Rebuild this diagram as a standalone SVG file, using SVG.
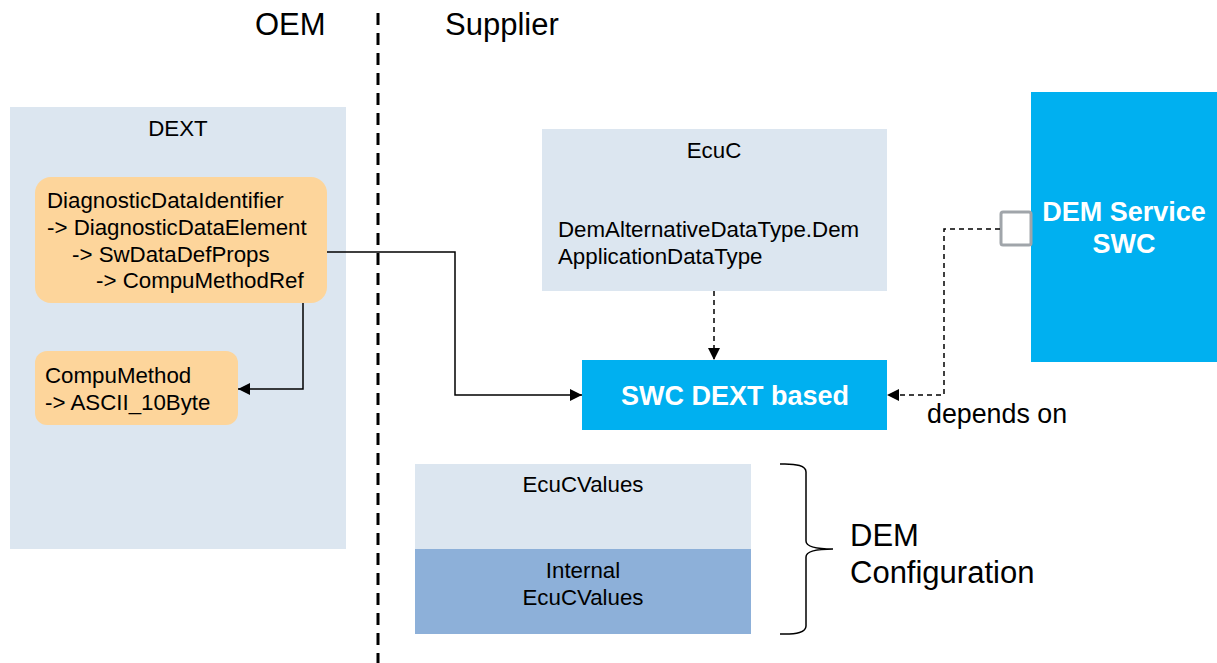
<svg xmlns="http://www.w3.org/2000/svg" width="1217" height="663" viewBox="0 0 1217 663">
<defs>
<style>
text{font-family:"Liberation Sans",Arial,sans-serif;fill:#000}
.s{font-size:22.3px}
.b{font-size:31px}
.w{fill:#fff;font-weight:bold;font-size:27px}
.light{fill:#dce6f0}
.or{fill:#fdd59b}
.line{fill:none;stroke:#000;stroke-width:1.5}
.dash{fill:none;stroke:#000;stroke-width:1.5;stroke-dasharray:5 4}
</style>
<marker id="ah" viewBox="0 0 10 10" refX="10" refY="5" markerWidth="12" markerHeight="12" markerUnits="userSpaceOnUse" orient="auto">
<path d="M0,0 L10,5 L0,10 z" fill="#000"/>
</marker>
</defs>
<rect width="1217" height="663" fill="#fff"/>
<g id="partition">
<text class="b" x="255" y="35">OEM</text>
<text class="b" x="445" y="35">Supplier</text>
<line x1="378" y1="13" x2="378" y2="663" stroke="#000" stroke-width="3" stroke-dasharray="12 8"/>
</g>
<g id="dext">
<rect class="light" x="10" y="107" width="336" height="442"/>
<text class="s" x="178" y="136" text-anchor="middle">DEXT</text>
</g>
<g id="ddi">
<rect class="or" x="35" y="177" width="292" height="126" rx="16"/>
<text class="s" x="47" y="208">DiagnosticDataIdentifier</text>
<text class="s" x="47" y="235">-&gt; DiagnosticDataElement</text>
<text class="s" x="72" y="262">-&gt; SwDataDefProps</text>
<text class="s" x="96" y="288">-&gt; CompuMethodRef</text>
</g>
<g id="compu">
<rect class="or" x="35" y="351" width="203" height="74" rx="12"/>
<text class="s" x="45" y="383">CompuMethod</text>
<text class="s" x="45" y="410">-&gt; ASCII_10Byte</text>
</g>
<g id="ecuc">
<rect class="light" x="542" y="129" width="345" height="162"/>
<text class="s" x="714" y="158" text-anchor="middle">EcuC</text>
<text class="s" x="558" y="237">DemAlternativeDataType.Dem</text>
<text class="s" x="558" y="264">ApplicationDataType</text>
</g>
<g id="swcdext">
<rect x="582" y="360" width="305" height="70" fill="#00b0f0"/>
<text class="w" x="735" y="405" text-anchor="middle">SWC DEXT based</text>
</g>
<g id="demswc">
<rect x="1031" y="92" width="186" height="270" fill="#00b0f0"/>
<text class="w" x="1124" y="221" text-anchor="middle">DEM Service</text>
<text class="w" x="1124" y="253" text-anchor="middle">SWC</text>
<rect x="1001" y="212" width="30" height="33" rx="2" fill="#fff" stroke="#a0a5aa" stroke-width="3"/>
</g>
<g id="ecucvalues">
<rect class="light" x="415" y="464" width="336" height="85"/>
<text class="s" x="583" y="492" text-anchor="middle">EcuCValues</text>
</g>
<g id="internal">
<rect x="415" y="549" width="336" height="85" fill="#8db0d9"/>
<text class="s" x="583" y="578" text-anchor="middle">Internal</text>
<text class="s" x="583" y="605" text-anchor="middle">EcuCValues</text>
</g>
<g id="demconfig">
<path class="line" d="M780,464 Q806,463 806,472 L806,541 Q806,549 833,549 Q806,549 806,557 L806,626 Q806,635 780,634"/>
<text class="b" x="850" y="546">DEM</text>
<text class="b" x="850" y="583">Configuration</text>
</g>
<g id="connectors">
<path class="line" d="M327,252 H455 V395 H582" marker-end="url(#ah)"/>
<path class="line" d="M303,303 V389 H238" marker-end="url(#ah)"/>
<path class="dash" d="M714,291 V360" marker-end="url(#ah)"/>
<path class="dash" d="M1000,229 H944 V395 H887" marker-end="url(#ah)"/>
<text x="927" y="423" font-size="26.8px">depends on</text>
</g>
</svg>
